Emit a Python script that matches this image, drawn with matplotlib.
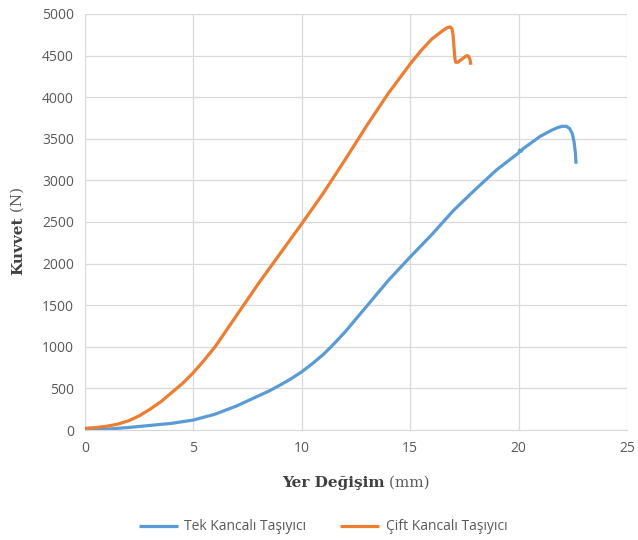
import matplotlib
matplotlib.use("Agg")
import matplotlib.pyplot as plt

# Data
tek_x = [0, 1, 2, 3, 4, 5, 6, 7, 8, 8.5, 9, 9.5, 10, 10.5, 11, 11.5, 12, 13, 14,
         15, 16, 17, 18, 19, 20, 20.05, 20.12, 20.2, 21, 21.5, 21.8, 22.0, 22.2,
         22.35, 22.48, 22.56, 22.62, 22.65]
tek_y = [0, 10, 30, 55, 80, 120, 190, 290, 410, 470, 540, 615, 700, 800, 910,
         1040, 1180, 1490, 1800, 2080, 2350, 2640, 2890, 3130, 3330, 3365, 3350,
         3380, 3530, 3600, 3635, 3650, 3650, 3625, 3560, 3460, 3330, 3200]

cift_x = [0, 0.5, 1, 1.5, 2, 2.5, 3, 3.5, 4, 4.5, 5, 5.5, 6, 6.5, 7, 7.5, 8, 9,
          10, 11, 12, 13, 14, 15, 15.5, 16, 16.5, 16.7, 16.85, 16.93, 16.98,
          17.02, 17.06, 17.1, 17.2, 17.35, 17.5, 17.62, 17.7, 17.76, 17.8]
cift_y = [20, 30, 45, 70, 110, 170, 250, 340, 450, 560, 690, 840, 1000, 1190,
          1380, 1570, 1760, 2120, 2480, 2850, 3250, 3660, 4050, 4400, 4560, 4700,
          4800, 4835, 4845, 4820, 4740, 4600, 4470, 4420, 4420, 4450, 4480, 4500,
          4490, 4450, 4390]

x_ticks = [0, 5, 10, 15, 20, 25]
y_ticks = [0, 500, 1000, 1500, 2000, 2500, 3000, 3500, 4000, 4500, 5000]

label_tek = "Tek Kancalı Taşıyıcı"
label_cift = "Çift Kancalı Taşıyıcı"

BLUE = "#5B9BD5"
ORANGE = "#ED7D31"
GRID = "#D9D9D9"
TXT = "#595959"

fig = plt.figure(figsize=(6.38, 5.40), dpi=100)
ax = fig.add_axes([85 / 638, 1 - 430 / 540, (627 - 85) / 638, (430 - 14) / 540])

ax.plot(tek_x, tek_y, color=BLUE, lw=2.3, label=label_tek,
        solid_joinstyle="round", solid_capstyle="butt")
ax.plot(cift_x, cift_y, color=ORANGE, lw=2.3, label=label_cift,
        solid_joinstyle="round", solid_capstyle="butt")

ax.set_xlim(0, 25)
ax.set_ylim(0, 5000)
ax.set_xticks(x_ticks)
ax.set_yticks(y_ticks)
ax.grid(True, color=GRID, lw=0.9)
ax.set_axisbelow(True)
for s in ["top", "right", "left"]:
    ax.spines[s].set_visible(False)
ax.spines["bottom"].set_color(GRID)
ax.tick_params(length=0, labelsize=10, labelcolor=TXT, pad=8)
for lab in ax.get_xticklabels() + ax.get_yticklabels():
    lab.set_fontfamily("Open Sans")

# X label: bold + normal parts
serif = "DejaVu Serif"
fig.canvas.draw()
r = fig.canvas.get_renderer()
t1 = fig.text(0, 0, "Yer Değişim", fontsize=11, fontweight="bold", family=serif, color="#404040")
t2 = fig.text(0, 0, " (mm)", fontsize=11, family=serif, color=TXT)
w1 = t1.get_window_extent(r).width
w2 = t2.get_window_extent(r).width
cx = 356
xs = cx - (w1 + w2) / 2
ybase = 540 - 487
t1.set_position((xs / 638, ybase / 540))
t2.set_position(((xs + w1) / 638, ybase / 540))

# Y label rotated
s1 = fig.text(0, 0, "Kuvvet", fontsize=11, fontweight="bold", family=serif, color="#404040", rotation=90)
s2 = fig.text(0, 0, " (N)", fontsize=11, family=serif, color=TXT, rotation=90)
h1 = s1.get_window_extent(r).height
h2 = s2.get_window_extent(r).height
cy = 540 - 228
ys = cy - (h1 + h2) / 2
xb = 11
s1.set_position((xb / 638, ys / 540))
s2.set_position((xb / 638, (ys + h1) / 540))

leg = fig.legend(loc="center", bbox_to_anchor=(323 / 638, 1 - 527 / 540), ncol=2,
                 frameon=False, handlelength=2.8, columnspacing=2.4,
                 handletextpad=0.5, prop={"family": "Open Sans", "size": 10})
for t in leg.get_texts():
    t.set_color(TXT)

fig.savefig("out.png", dpi=100)
